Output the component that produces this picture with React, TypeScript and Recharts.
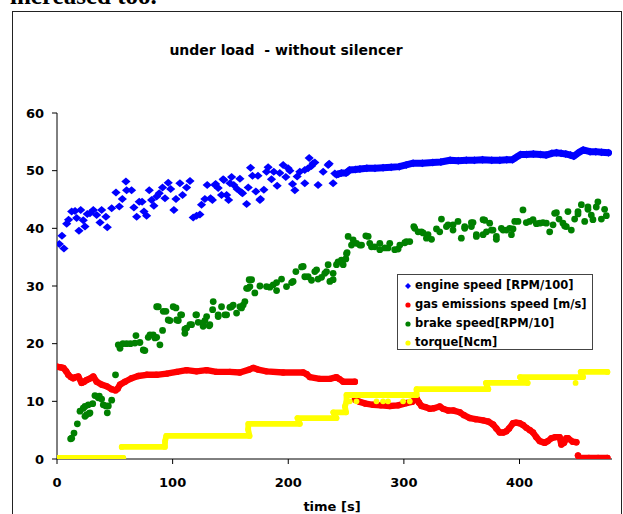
import { Scatter, ScatterChart, XAxis, YAxis } from "recharts";

type Pt = [number, number];

const X_TICKS = [0, 100, 200, 300, 400];
const Y_TICKS = [0, 10, 20, 30, 40, 50, 60];

const BLUE = "#0000FF";
const RED = "#FF0000";
const GREEN = "#008000";
const YELLOW = "#FFFF00";
const FONT = '"DejaVu Sans", Arial, sans-serif';

// engine speed [RPM/100] - scattered start, then a steady trace
const engineScatter: Pt[] = [
  [2, 37.3], [4.3, 38.7], [6, 36.5], [8.4, 40.8], [10, 41.5], [12.7, 42.9], [15.6, 43.0], [17, 41.8],
  [19, 39.6], [20.5, 43.2], [22.7, 41.4], [24.2, 40.3], [26.2, 42.5], [28.5, 42.6], [31.4, 43.2],
  [34.3, 42.3], [37.2, 41.0], [38.6, 43.2], [42.3, 42.0], [43.5, 40.2], [47.3, 43.5], [51, 46.2],
  [53.9, 43.8], [56.5, 45.1], [59.6, 48.1], [60.2, 46.6], [64.5, 46.6], [66.5, 43.6], [68.9, 42.0],
  [71.1, 44.6], [73.6, 44.6], [75.2, 42.9], [77.5, 42.2], [79.8, 46.6], [81.8, 44.9], [83.8, 43.9],
  [86.2, 45.5], [88.4, 46.1], [91.3, 47.1], [93.4, 45.2], [96.2, 47.9], [98.3, 46.8], [101.1, 43.2],
  [102.9, 45.1], [106.3, 47.8], [108.6, 45.8], [112.1, 47.1], [115, 48.2], [117.8, 41.9], [120.7, 42.2],
  [123.6, 42.4], [125, 44.1], [127.9, 45.1], [129.9, 47.5], [132.8, 45.2], [134.4, 44.9], [136.6, 47.5],
  [137.2, 47.7], [139.4, 47.0], [142.3, 45.8], [143.7, 48.5], [144.3, 48.4], [146.7, 45.8], [148.4, 44.9],
  [149.6, 47.8], [151, 48.9], [152.9, 47.5], [155.8, 46.8], [158.2, 48.6], [159.6, 46.2], [160.5, 46.1],
  [164, 44.2], [165.4, 47.1], [167.4, 50.5], [169.1, 49.1], [172, 46.4], [173.8, 49.1], [175.5, 44.9],
  [176, 45.1], [178.9, 46.7], [181.2, 49.8], [182.6, 50.6], [185.5, 48.5], [187.5, 49.8], [190.4, 47.4],
  [192.7, 49.6], [195.6, 51.0], [197.9, 48.9], [199.9, 50.4], [201.4, 50.0], [203.7, 47.7], [205.7, 46.6],
  [207.7, 49.0], [210, 49.8], [214.3, 47.8], [214.3, 50.1], [217.2, 50.4], [218.1, 52.2], [220.1, 50.8],
  [221.5, 51.3], [223, 51.4], [225.8, 47.5], [230.2, 49.8], [234.5, 51.0], [235.4, 51.2], [238.8, 47.8],
  [240.3, 49.5], [241.7, 49.3],
];

const engineSteady: Pt[] = [
  [243, 49.4], [246, 49.6], [250, 49.6], [253, 50.1], [258, 50.2], [262, 50.3], [268, 50.4], [275, 50.4],
  [282, 50.5], [289, 50.6], [296, 50.7], [302, 51.0], [308, 51.3], [316, 51.3], [325, 51.4], [332, 51.5],
  [340, 51.8], [347, 51.7], [354, 51.8], [361, 51.8], [368, 51.9], [376, 51.8], [383, 51.8], [389, 51.9],
  [394, 51.9], [397, 52.3], [401, 52.8], [406, 52.8], [412, 52.9], [418, 52.8], [423, 52.7], [428, 53.0],
  [432, 53.1], [436, 53.0], [440, 52.9], [444, 52.7], [447, 52.5], [451, 53.1], [455, 53.6], [461, 53.3],
  [466, 53.3], [471, 53.2], [477, 53.1],
];

// gas emissions speed [m/s], three unbroken stretches
const gasSpeedA: Pt[] = [
  [0, 16.0], [3, 15.9], [5.5, 15.8], [8, 15.2], [9.8, 14.6], [12, 14.2], [14.1, 14.0], [16, 14.2],
  [18.4, 14.3], [21.3, 13.2], [23.5, 13.4], [25.7, 13.7], [28, 13.9], [31.4, 14.3], [34.3, 13.4],
  [38.6, 12.9], [43, 12.6], [47.3, 12.1], [50.7, 11.9], [52.5, 12.2], [54.5, 12.9], [58.8, 13.4],
  [64.5, 14.0], [70.3, 14.4], [77.5, 14.6], [86.2, 14.6], [94.8, 14.8], [103.5, 15.1], [112.1, 15.4],
  [120.7, 15.2], [129.4, 15.4], [138, 15.1], [149.5, 15.1], [158.2, 15.0], [166.2, 15.5], [169.7, 15.8],
  [174, 15.5], [181.2, 15.2], [195.6, 15.0], [212.9, 15.0], [216, 14.7], [218.7, 14.2], [227.3, 13.9],
  [236, 13.9], [241.7, 14.2], [244, 13.9], [247.5, 13.4], [257.6, 13.4],
];

const gasSpeedB: Pt[] = [
  [257.6, 10.3], [261.9, 9.9], [267, 9.6], [273.4, 9.4], [280, 9.3], [287.8, 9.2], [295, 9.3],
  [302.2, 9.7], [307, 9.9], [310.9, 10.5], [313, 9.8], [315.2, 9.2], [318.5, 9.0], [322.4, 8.7],
  [326, 8.8], [331, 9.1], [334, 8.7], [338.2, 8.4], [343, 8.4], [348.3, 8.1], [352, 7.6], [357, 7.1],
  [362, 6.9], [368.5, 6.7], [373, 6.5], [377.1, 6.0], [380, 5.3], [382.9, 4.6], [386, 4.6], [388.6, 4.8],
  [391, 5.3], [394.4, 6.2], [397, 6.3], [400.2, 6.2], [403, 5.9], [406, 5.4], [409, 5.0], [411.7, 4.6],
  [414.5, 3.8], [417.5, 3.1], [421.8, 2.8], [424.5, 3.1], [427.6, 3.6], [431, 3.8], [434.7, 3.8],
  [436.2, 2.5], [438.5, 2.8], [440.5, 3.6], [442, 3.6], [446, 3.0], [449.2, 2.9],
];

const gasSpeedC: Pt[] = [
  [450.6, 0.6], [452, 0.2], [460, 0.2], [468, 0.2], [476, 0.2],
];

// brake speed [RPM/10]
const brakeSpeed: Pt[] = [
  [11.8, 3.5], [12.7, 3.6], [14.7, 4.5], [17.6, 6.1], [19.9, 8.3], [22.7, 8.8], [24.2, 7.4], [24.2, 9.1],
  [25.7, 7.7], [27.1, 9.4], [27.9, 7.9], [28.5, 8.0], [30.9, 9.6], [32.8, 11.0], [35.7, 10.6], [36.6, 10.9],
  [38.6, 10.4], [40, 9.4], [42.3, 9.2], [43.5, 8.0], [44.4, 9.2], [47.3, 10.2], [50.6, 14.6], [53, 19.8],
  [54.5, 19.2], [57, 20.0], [60.2, 20.0], [63.5, 20.0], [67.4, 20.1], [68.3, 21.4], [71.7, 20.2],
  [74.6, 18.9], [76, 18.8], [78.9, 21.1], [80.4, 21.5], [83.2, 21.5], [84.7, 21.0], [86.2, 21.1],
  [89, 19.8], [91.3, 22.3], [86.2, 26.4], [87.6, 26.4], [91.9, 25.6], [94.2, 25.6], [96.2, 24.1],
  [97.7, 24.0], [100.5, 26.4], [102.9, 26.2], [103.5, 24.1], [104.9, 24.0], [106.9, 25.0], [107.8, 25.0],
  [110.6, 22.5], [110.6, 21.8], [112.1, 22.7], [115, 23.3], [116.4, 23.3], [120.1, 25.0], [120.7, 25.0],
  [122.1, 23.7], [126.4, 23.0], [126.4, 23.6], [127.9, 24.0], [129.4, 24.7], [131.6, 23.1], [132.2, 23.3],
  [134.6, 25.9], [135.1, 27.3], [139.4, 24.7], [139.4, 25.0], [142.3, 26.4], [145.2, 25.0], [146.7, 25.0],
  [149.5, 26.3], [151, 26.4], [152.4, 26.7], [155.3, 25.3], [158.2, 26.4], [159.6, 26.2], [161, 26.7],
  [162.5, 27.3], [164, 29.6], [165.3, 29.6], [166.2, 31.1], [166.8, 29.9], [168.3, 31.1], [171.1, 28.8],
  [175.5, 30.0], [181.2, 29.9], [184.1, 29.8], [187, 30.2], [189.9, 29.2], [189.9, 30.6], [194.2, 31.2],
  [198.5, 29.9], [202.9, 30.6], [204.2, 30.8], [206.6, 32.5], [211.5, 33.3], [212.9, 33.4], [214.3, 31.6],
  [217.2, 31.6], [220.1, 31.0], [223, 32.5], [224.5, 32.8], [225.8, 31.2], [228.8, 31.5], [231.6, 32.2],
  [233.1, 32.5], [234.5, 33.7], [236, 30.8], [238.8, 31.1], [238.8, 32.2], [241.7, 33.7], [243.1, 34.2],
  [246, 34.5], [247.5, 33.7], [249.8, 34.7], [250.4, 35.6], [250.9, 35.8], [251.8, 38.6], [254.7, 37.1],
  [256.1, 38.0], [259, 37.4], [261.9, 37.1], [263.4, 37.1], [267.1, 38.7], [269.1, 38.6], [270.5, 37.4],
  [272, 36.8], [274.8, 36.8], [279.2, 36.3], [279.2, 37.4], [283.5, 36.6], [286.3, 36.6], [287.8, 37.4],
  [292.1, 36.3], [295, 36.4], [296.5, 37.1], [300.8, 37.5], [302.2, 37.7], [305.1, 37.7], [308.6, 40.3],
  [309.4, 40.0], [312.3, 39.4], [315.2, 39.4], [316.6, 39.2], [319.5, 38.3], [320.9, 38.9], [323.9, 38.1],
  [328.2, 39.9], [331, 39.4], [332.5, 41.6], [336.8, 40.3], [338.2, 40.6], [342.5, 39.7], [342.5, 40.6],
  [346.8, 41.2], [349.7, 38.3], [352.6, 40.3], [352.6, 40.0], [358.4, 41.0], [358.4, 40.3], [359.8, 41.0],
  [362.7, 38.6], [362.7, 38.9], [368.5, 41.5], [368.5, 38.9], [369.9, 41.4], [371.4, 39.4], [374.2, 40.9],
  [375.7, 39.7], [377.1, 39.7], [380, 38.6], [380, 38.1], [384.3, 40.0], [385.8, 39.7], [388.7, 39.7],
  [391.5, 40.0], [393, 38.9], [394.4, 39.9], [395.9, 41.2], [398.7, 41.2], [403, 43.2], [405.9, 41.0],
  [408.8, 41.2], [411.7, 41.5], [414.6, 40.8], [417.5, 40.9], [420.3, 41.0], [423.2, 40.9], [426.1, 39.4],
  [429, 40.6], [430.4, 42.6], [431.9, 42.7], [434.2, 41.6], [437.6, 40.9], [439.1, 40.4], [440.5, 40.3],
  [441.9, 42.9], [444.8, 39.7], [447.7, 41.6], [450.6, 42.9], [450.6, 42.5], [453.5, 44.1], [456.4, 41.2],
  [459.2, 43.7], [459.2, 43.3], [462.1, 42.3], [463.5, 41.5], [466.4, 43.7], [467.8, 44.6], [470.8, 41.6],
  [473.6, 43.3], [475.1, 42.2],
];

// torque [Ncm], stepped
const torqueLow: Pt[] = [[0, 0.2], [57.3, 0.2]];

const torqueSteps: Pt[] = [
  [56, 2.1], [93.3, 2.1], [93.5, 3.1], [94.5, 4.0], [166.5, 4.0], [165.3, 5.1], [165.5, 6.1], [210, 6.1],
  [208, 7.1], [241.7, 7.1], [239, 8.1], [250, 8.1], [249, 9.1], [250.4, 10.0], [250.4, 11.1], [311, 11.1],
  [311, 12.1], [373, 12.1], [371, 13.2], [407, 13.2], [400.5, 14.2], [455, 14.2], [453, 15.1], [476, 15.1],
];

const torqueStray: Pt[] = [
  [253.2, 10.0], [259, 10.0], [276.3, 10.0], [282, 10.0], [286.3, 10.0], [299.3, 10.0], [305.1, 10.0],
  [448.5, 13.2],
];

const LEGEND = [
  { name: "engine speed [RPM/100]", color: BLUE, diamond: true },
  { name: "gas emissions speed [m/s]", color: RED, diamond: false },
  { name: "brake speed[RPM/10]", color: GREEN, diamond: false },
  { name: "torque[Ncm]", color: YELLOW, diamond: false },
];

const toRows = (pts: Pt[]) => pts.map(([t, v]) => ({ t, v }));

const diamond = (props: any) => {
  const { cx, cy, fill } = props;
  if (cx == null || cy == null) return <g />;
  return (
    <polygon
      points={`${cx},${cy - 4} ${cx + 4.6},${cy} ${cx},${cy + 4} ${cx - 4.6},${cy}`}
      fill={fill}
    />
  );
};

const dot = (r: number) => (props: any) => {
  const { cx, cy, fill } = props;
  if (cx == null || cy == null) return <g />;
  return <circle cx={cx} cy={cy} r={r} fill={fill} />;
};

const trace = (color: string, width: number) => ({
  stroke: color,
  strokeWidth: width,
  strokeLinecap: "round" as const,
  strokeLinejoin: "round" as const,
});

function ChartLegend() {
  return (
    <div
      style={{
        position: "absolute",
        left: 397,
        top: 274,
        width: 194,
        height: 74,
        border: "1px solid #444",
        background: "#fff",
        fontFamily: FONT,
        fontWeight: "bold",
        fontSize: 11.5,
        color: "#000",
      }}
    >
      {LEGEND.map((item, i) => (
        <div
          key={item.name}
          style={{ position: "absolute", left: 0, top: 1 + i * 18.9, height: 19, width: 194, lineHeight: "19px" }}
        >
          <svg width={10} height={10} style={{ position: "absolute", left: 5, top: 5 }}>
            {item.diamond ? (
              <polygon points="5,2 8,5 5,8 2,5" fill={item.color} />
            ) : (
              <circle cx={5} cy={5} r={2.6} fill={item.color} />
            )}
          </svg>
          <span style={{ position: "absolute", left: 17, top: 0, whiteSpace: "nowrap" }}>{item.name}</span>
        </div>
      ))}
    </div>
  );
}

export default function App() {
  const tickStyle = { fill: "#000", fontSize: 13, fontWeight: "bold", fontFamily: FONT };
  return (
    <div style={{ position: "relative", width: 623, height: 514, overflow: "hidden", background: "#fff" }}>
      <style>{"body{margin:0}"}</style>
      <div
        style={{
          position: "absolute",
          left: 10,
          top: -18,
          fontFamily: '"Liberation Serif", "Times New Roman", serif',
          fontWeight: "bold",
          fontSize: 25,
          lineHeight: "28px",
          whiteSpace: "nowrap",
          color: "#000",
        }}
      >
        increased too.
      </div>
      <div
        style={{
          position: "absolute",
          left: 12,
          top: 11,
          width: 608,
          height: 600,
          border: "1px solid #222",
        }}
      />
      <div
        style={{
          position: "absolute",
          left: 86,
          width: 400,
          top: 41,
          textAlign: "center",
          fontFamily: FONT,
          fontWeight: "bold",
          fontSize: 14,
          lineHeight: "18px",
          whiteSpace: "pre",
          color: "#000",
        }}
      >
        {"under load  - without silencer"}
      </div>
      <div style={{ position: "absolute", left: 0, top: 0 }}>
        <ScatterChart width={623} height={514} margin={{ top: 113, right: 11, bottom: 0, left: 0 }}>
          <XAxis
            type="number"
            dataKey="t"
            domain={[0, 480]}
            ticks={X_TICKS}
            height={55}
            tickSize={5}
            tickMargin={14}
            axisLine={{ stroke: "#000" }}
            tickLine={{ stroke: "#000" }}
            tick={tickStyle}
            allowDataOverflow
          />
          <YAxis
            type="number"
            dataKey="v"
            domain={[0, 60]}
            ticks={Y_TICKS}
            width={57}
            tickSize={5}
            tickMargin={8}
            axisLine={{ stroke: "#000" }}
            tickLine={{ stroke: "#000" }}
            tick={tickStyle}
            allowDataOverflow
          />
          <Scatter name="engine speed [RPM/100]" data={toRows(engineScatter)} fill={BLUE} shape={diamond} isAnimationActive={false} />
          <Scatter
            name="engine speed steady"
            data={toRows(engineSteady)}
            fill={BLUE}
            shape={diamond}
            line={trace(BLUE, 7)}
            lineType="joint"
            isAnimationActive={false}
          />
          <Scatter name="gas A" data={toRows(gasSpeedA)} fill={RED} shape={dot(3.2)} line={trace(RED, 6.4)} lineType="joint" isAnimationActive={false} />
          <Scatter name="gas B" data={toRows(gasSpeedB)} fill={RED} shape={dot(3.2)} line={trace(RED, 6.4)} lineType="joint" isAnimationActive={false} />
          <Scatter name="gas C" data={toRows(gasSpeedC)} fill={RED} shape={dot(3.2)} line={trace(RED, 6.4)} lineType="joint" isAnimationActive={false} />
          <Scatter name="brake speed[RPM/10]" data={toRows(brakeSpeed)} fill={GREEN} shape={dot(3.4)} isAnimationActive={false} />
          <Scatter name="torque low" data={toRows(torqueLow)} fill={YELLOW} shape={dot(2.9)} line={trace(YELLOW, 5.8)} lineType="joint" isAnimationActive={false} />
          <Scatter name="torque steps" data={toRows(torqueSteps)} fill={YELLOW} shape={dot(2.9)} line={trace(YELLOW, 5.8)} lineType="joint" isAnimationActive={false} />
          <Scatter name="torque stray" data={toRows(torqueStray)} fill={YELLOW} shape={dot(2.9)} isAnimationActive={false} />
        </ScatterChart>
      </div>
      <ChartLegend />
      <div
        style={{
          position: "absolute",
          left: 232,
          width: 200,
          top: 499,
          textAlign: "center",
          fontFamily: FONT,
          fontWeight: "bold",
          fontSize: 13,
          lineHeight: "16px",
          color: "#000",
        }}
      >
        time [s]
      </div>
    </div>
  );
}
